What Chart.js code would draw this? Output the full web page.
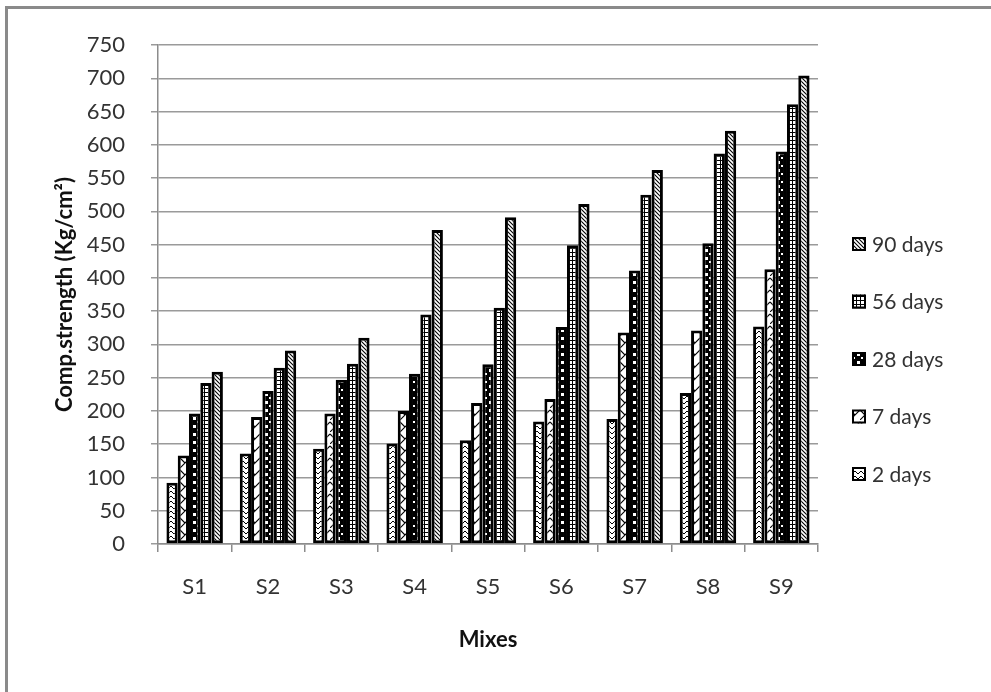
<!DOCTYPE html>
<html>
<head>
<meta charset="utf-8">
<script src="https://cdn.jsdelivr.net/npm/chart.js@4.4.1/dist/chart.umd.min.js"></script>
<style>
  html, body { margin: 0; padding: 0; background: #fff; }
  #wrap { position: relative; width: 991px; height: 692px; }
  #frame { position: absolute; left: 5px; top: 6px; right: 0; bottom: 0;
           border-top: 3px solid #8a8a8a; border-left: 3px solid #8a8a8a; pointer-events: none; }
  canvas { position: absolute; left: 0; top: 0; }
</style>
</head>
<body>
<div id="wrap">
  <canvas id="chart" width="991" height="692"></canvas>
  <div id="frame"></div>
</div>
<script>
// Mix designations
const mixes = ['S1', 'S2', 'S3', 'S4', 'S5', 'S6', 'S7', 'S8', 'S9'];

// Compressive strength (Kg/cm²) by curing age
const days2  = [92, 136, 143, 151, 156, 184, 188, 227, 327];
const days7  = [133, 191, 196, 200, 212, 218, 318, 321, 413];
const days28 = [196, 230, 247, 256, 270, 326, 411, 452, 590];
const days56 = [242, 265, 271, 345, 355, 449, 525, 587, 661];
const days90 = [259, 291, 310, 472, 491, 511, 562, 621, 704];

const seriesLabels = ['2 days', '7 days', '28 days', '56 days', '90 days'];

// Y axis range and step
const yMin = 0, yMax = 750, yStep = 50;

// Small monochrome fill patterns for the bars
function makePattern(w, h, draw) {
  const c = document.createElement('canvas');
  c.width = w; c.height = h;
  const g = c.getContext('2d');
  g.fillStyle = '#fff';
  g.fillRect(0, 0, w, h);
  g.strokeStyle = '#000';
  g.fillStyle = '#000';
  draw(g, w, h);
  return g.createPattern(c, 'repeat');
}

const chevrons = makePattern(6, 5, (g) => {
  g.lineWidth = 1;
  g.beginPath();
  g.moveTo(0, 4); g.lineTo(3, 1); g.lineTo(6, 4);
  g.stroke();
});

const zigzag = makePattern(10, 12, (g) => {
  g.lineWidth = 1.1;
  g.beginPath();
  g.moveTo(0, 12); g.lineTo(10, 2);
  g.moveTo(0, 2); g.lineTo(5, 7);
  g.stroke();
});

const checker = makePattern(8, 8, (g) => {
  g.fillRect(0, 0, 8, 8);
  g.fillStyle = '#fff';
  g.fillRect(1, 1, 3, 3);
  g.fillRect(5, 5, 2, 2);
});

const grid = makePattern(4, 4, (g) => {
  g.fillRect(0, 0, 4, 1);
  g.fillRect(0, 0, 1, 4);
});

const stripes = makePattern(4, 4, (g) => {
  g.lineWidth = 1.1;
  g.beginPath();
  g.moveTo(0, 0); g.lineTo(4, 4);
  g.moveTo(-1, 3); g.lineTo(1, 5);
  g.moveTo(3, -1); g.lineTo(5, 1);
  g.stroke();
});

const fills = [chevrons, zigzag, checker, grid, stripes];
const values = [days2, days7, days28, days56, days90];

const datasets = values.map((v, i) => ({
  label: seriesLabels[i],
  data: v,
  backgroundColor: fills[i],
  borderColor: '#000',
  borderWidth: 3,
  borderSkipped: false,
  categoryPercentage: 0.77,
  barPercentage: 1.0
}));

const fontFamily = 'Lato, "Open Sans", sans-serif';

// Legend on the right, listed from the latest age down, drawn next to the plot area
const sideLegend = {
  id: 'sideLegend',
  afterDraw(chart) {
    const ctx = chart.ctx;
    const ds = chart.data.datasets;
    const x = chart.chartArea.right + 34;
    const step = 57.5;
    const midY = 359;
    const n = ds.length;
    ctx.save();
    ctx.font = '21px ' + fontFamily;
    ctx.textBaseline = 'middle';
    ctx.textAlign = 'left';
    for (let k = 0; k < n; k++) {
      const d = ds[n - 1 - k];
      const y = midY + (k - (n - 1) / 2) * step;
      ctx.fillStyle = d.backgroundColor;
      ctx.fillRect(x, y - 7, 14, 14);
      ctx.lineWidth = 2;
      ctx.strokeStyle = '#000';
      ctx.strokeRect(x + 1, y - 6, 12, 12);
      ctx.fillStyle = '#333';
      ctx.fillText(d.label, x + 20, y + 1);
    }
    ctx.restore();
  }
};

new Chart(document.getElementById('chart'), {
  type: 'bar',
  data: { labels: mixes, datasets },
  plugins: [sideLegend],
  options: {
    responsive: false,
    animation: false,
    layout: { padding: { left: 0, top: 45, right: 173, bottom: 0 } },
    plugins: {
      tooltip: { enabled: false },
      legend: { display: false }
    },
    scales: {
      x: {
        afterFit(scale) { scale.height = 148; },
        grid: {
          offset: true,
          drawOnChartArea: false,
          drawTicks: true,
          tickLength: 8,
          color: '#8c8c8c',
          lineWidth: 1.5
        },
        border: { color: '#8c8c8c', width: 1.5 },
        ticks: { color: '#333', padding: 22, font: { family: fontFamily, size: 22 } },
        title: {
          display: true,
          text: 'Mixes',
          color: '#111',
          font: { family: fontFamily, size: 22, weight: 'bold' },
          padding: { top: 39, bottom: 39 }
        }
      },
      y: {
        afterFit(scale) { scale.width = 158; },
        min: yMin,
        max: yMax,
        ticks: { stepSize: yStep, color: '#333', padding: 26, font: { family: fontFamily, size: 22 } },
        grid: { color: '#9a9a9a', lineWidth: 1.5, tickLength: 7 },
        border: { color: '#8c8c8c', width: 1.5 },
        title: {
          display: true,
          text: 'Comp.strength (Kg/cm²)',
          color: '#111',
          font: { family: fontFamily, size: 22, weight: 'bold' },
          padding: { top: 52, bottom: 52 }
        }
      }
    }
  }
});
</script>
</body>
</html>
